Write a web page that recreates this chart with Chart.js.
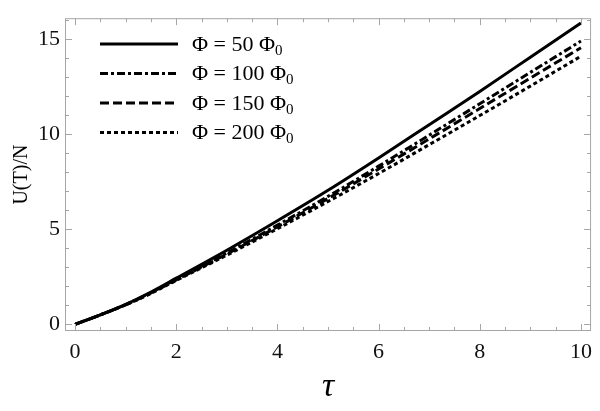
<!DOCTYPE html>
<html>
<head>
<meta charset="utf-8">
<script src="https://cdn.jsdelivr.net/npm/chart.js@4.4.0/dist/chart.umd.min.js"></script>
<style>
html, body { margin: 0; padding: 0; background: #fff; }
</style>
</head>
<body>
<canvas id="myChart" width="600" height="411"></canvas>
<script>
// values
const tau = [0, 0.5, 1, 1.5, 2, 3, 4, 5, 6, 7, 8, 9, 10];
const u50 = [0, 0.5, 1.05, 1.7, 2.43, 3.9, 5.45, 7.05, 8.75, 10.5, 12.25, 14.05, 15.85];
const u100 = [0, 0.5, 1.04, 1.67, 2.37, 3.75, 5.22, 6.73, 8.32, 9.95, 11.6, 13.25, 14.9];
const u150 = [0, 0.5, 1.03, 1.65, 2.34, 3.7, 5.13, 6.62, 8.17, 9.75, 11.35, 12.95, 14.55];
const u200 = [0, 0.5, 1.02, 1.63, 2.31, 3.64, 5.03, 6.46, 7.93, 9.45, 10.98, 12.53, 14.1];
const phiValues = ['50', '100', '150', '200'];
const xTicks = [0, 2, 4, 6, 8, 10];
const yTicks = [0, 5, 10, 15];

const serif = '"Liberation Serif", "Times New Roman", Tinos, serif';
const frameColor = '#a6a6a6';

function points(ys) {
    return tau.map((t, i) => ({ x: t, y: ys[i] }));
}

// gray frame with inward ticks on all four sides
const frameTicks = {
    id: 'frameTicks',
    afterDatasetsDraw(chart) {
        const ctx = chart.ctx;
        const a = chart.chartArea;
        const x = chart.scales.x;
        const y = chart.scales.y;
        ctx.save();
        ctx.strokeStyle = frameColor;
        ctx.lineWidth = 1;
        ctx.strokeRect(a.left + 0.5, a.top + 0.5, a.right - a.left - 1, a.bottom - a.top - 1);
        ctx.beginPath();
        for (let i = 0; i <= 20; i++) {
            let v = i * 0.5;
            let px = Math.round(x.getPixelForValue(v)) + 0.5;
            let len = (i % 4 === 0) ? 7 : 4;
            ctx.moveTo(px, a.bottom);
            ctx.lineTo(px, a.bottom - len);
            ctx.moveTo(px, a.top);
            ctx.lineTo(px, a.top + len);
        }
        for (let v = 0; v <= 16; v++) {
            let py = Math.round(y.getPixelForValue(v)) + 0.5;
            let len = (v % 5 === 0) ? 7 : 4;
            ctx.moveTo(a.left, py);
            ctx.lineTo(a.left + len, py);
            ctx.moveTo(a.right, py);
            ctx.lineTo(a.right - len, py);
        }
        ctx.stroke();
        ctx.restore();
    }
};

// legend with Φ0 subscript
const phiLegend = {
    id: 'phiLegend',
    afterDraw(chart) {
        const ctx = chart.ctx;
        ctx.save();
        chart.data.datasets.forEach((ds, i) => {
            let yy = 44 + i * 29.5;
            ctx.strokeStyle = '#000';
            ctx.lineWidth = 3;
            ctx.setLineDash(ds.borderDash || []);
            ctx.beginPath();
            ctx.moveTo(100, yy);
            ctx.lineTo(178, yy);
            ctx.stroke();
            ctx.setLineDash([]);
            ctx.fillStyle = '#000';
            ctx.textBaseline = 'middle';
            ctx.font = '22px ' + serif;
            let txt = 'Φ = ' + phiValues[i] + ' Φ';
            ctx.fillText(txt, 192, yy + 1);
            let w = ctx.measureText(txt).width;
            ctx.font = '15px ' + serif;
            ctx.fillText('0', 192 + w, yy + 7);
        });
        ctx.restore();
    }
};

const ctx = document.getElementById('myChart').getContext('2d');
const myChart = new Chart(ctx, {
    type: 'line',
    data: {
        datasets: [
            { label: 'Φ = 50 Φ₀', data: points(u50), borderDash: [] },
            { label: 'Φ = 100 Φ₀', data: points(u100), borderDash: [8, 3, 3, 3] },
            { label: 'Φ = 150 Φ₀', data: points(u150), borderDash: [9, 4] },
            { label: 'Φ = 200 Φ₀', data: points(u200), borderDash: [4, 3] },
        ],
    },
    options: {
        responsive: false,
        animation: false,
        layout: { padding: { top: 2, right: 3, left: 0, bottom: 0 } },
        plugins: {
            legend: { display: false },
            tooltip: { enabled: false },
        },
        elements: {
            point: { radius: 0 },
            line: { borderWidth: 3, borderColor: '#000', cubicInterpolationMode: 'monotone', borderCapStyle: 'butt' },
        },
        scales: {
            x: {
                type: 'linear',
                min: -0.2,
                max: 10.2,
                afterBuildTicks: s => { s.ticks = xTicks.map(v => ({ value: v })); },
                afterFit: s => { s.height = 80; },
                grid: { display: false, drawTicks: false },
                border: { display: false },
                ticks: { font: { family: serif, size: 22 }, color: '#111', padding: 8, maxRotation: 0 },
                title: { display: true, text: 'τ', color: '#000', font: { family: serif, size: 34, style: 'italic' }, padding: { top: 0, bottom: 4 } },
            },
            y: {
                type: 'linear',
                min: -0.35,
                max: 16.1,
                afterBuildTicks: s => { s.ticks = yTicks.map(v => ({ value: v })); },
                afterFit: s => { s.width = 65; },
                grid: { display: false, drawTicks: false },
                border: { display: false },
                ticks: { font: { family: serif, size: 22 }, color: '#111', padding: 5 },
                title: { display: true, text: 'U(T)/N', color: '#000', font: { family: serif, size: 20 }, padding: { top: 10, bottom: 0 } },
            },
        },
    },
    plugins: [frameTicks, phiLegend],
});
</script>
</body>
</html>
